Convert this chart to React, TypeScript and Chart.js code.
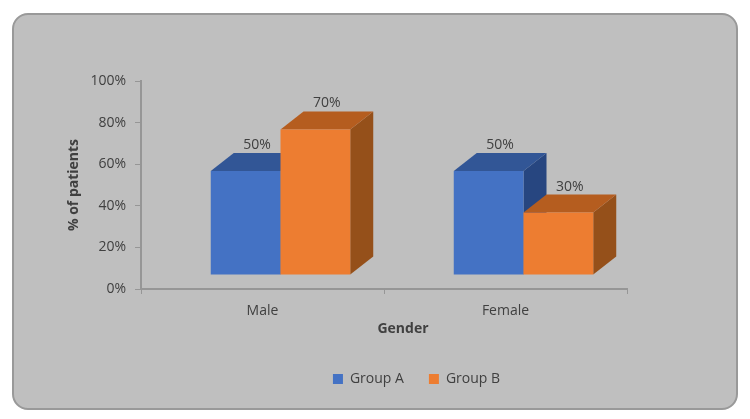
import React, { useEffect, useRef } from "react";
import { Chart, registerables } from "chart.js";

Chart.register(...registerables);

const categories = ["Male", "Female"];
const groupA = [50, 50];
const groupB = [70, 30];
const yTicksStep = 20;
const xAxisTitle = "Gender";

const FONT = "'Open Sans', 'Noto Sans', sans-serif";
const TEXT = "#404040";
const AXIS = "#969696";
const SHADES = [
  { front: "#4472C4", top: "#325696", side: "#274680" },
  { front: "#ED7D31", top: "#B55D1F", side: "#95501A" },
];
const SHIFT_X = 18;
const SHIFT_Y = -14;
const DEPTH_X = 23;
const DEPTH_Y = 18;

function poly(ctx: CanvasRenderingContext2D, pts: number[][], fill: string) {
  ctx.beginPath();
  pts.forEach((p, i) => (i ? ctx.lineTo(p[0], p[1]) : ctx.moveTo(p[0], p[1])));
  ctx.closePath();
  ctx.fillStyle = fill;
  ctx.fill();
}

const bars3d = {
  id: "bars3d",
  afterLayout(chart: any) {
    // the legend sits centred under the whole plot including its depth, not under the axis
    chart.legend.left = 83;
    chart.legend.right = 750;
    chart.legend.top = 347;
  },
  beforeDatasetsDraw(chart: any) {
    const { ctx } = chart;
    chart.data.datasets.forEach((_: any, di: number) => {
      const s = SHADES[di];
      chart.getDatasetMeta(di).data.forEach((el: any) => {
        const p = el.getProps(["x", "y", "base", "width"], true);
        const l = p.x - p.width / 2 + SHIFT_X;
        const r = p.x + p.width / 2 + SHIFT_X;
        const t = p.y + SHIFT_Y;
        const b = p.base + SHIFT_Y;
        poly(ctx, [[r, t], [r + DEPTH_X, t - DEPTH_Y], [r + DEPTH_X, b - DEPTH_Y], [r, b]], s.side);
        poly(ctx, [[l, t], [l + DEPTH_X, t - DEPTH_Y], [r + DEPTH_X, t - DEPTH_Y], [r, t]], s.top);
        poly(ctx, [[l, t], [r, t], [r, b], [l, b]], s.front);
      });
    });
    return false;
  },
  afterDraw(chart: any) {
    const { ctx } = chart;
    ctx.save();
    ctx.font = `14px ${FONT}`;
    ctx.fillStyle = TEXT;
    ctx.textAlign = "center";
    ctx.textBaseline = "middle";
    chart.data.datasets.forEach((ds: any, di: number) => {
      chart.getDatasetMeta(di).data.forEach((el: any, i: number) => {
        const p = el.getProps(["x", "y"], true);
        ctx.fillText(`${ds.data[i]}%`, p.x + SHIFT_X + DEPTH_X / 2, p.y + SHIFT_Y - 26);
      });
    });
    ctx.font = `bold 14px ${FONT}`;
    ctx.fillText(xAxisTitle, 403, 329);
    ctx.restore();
  },
};

export default function App() {
  const ref = useRef<HTMLCanvasElement>(null);
  useEffect(() => {
    document.body.style.margin = "0";
    const chart = new Chart(ref.current!, {
      type: "bar",
      data: {
        labels: categories,
        datasets: [
          { label: "Group A", data: groupA, backgroundColor: SHADES[0].front },
          { label: "Group B", data: groupB, backgroundColor: SHADES[1].front },
        ],
      },
      plugins: [bars3d],
      options: {
        responsive: false,
        animation: false,
        layout: { padding: { left: 66, top: 81, right: 123, bottom: 0 } },
        datasets: { bar: { categoryPercentage: 0.574, barPercentage: 1 } },
        plugins: {
          tooltip: { enabled: false },
          legend: {
            position: "bottom",
            labels: {
              boxWidth: 10,
              boxHeight: 10,
              padding: 25,
              color: TEXT,
              font: { family: FONT, size: 14 },
            },
          },
        },
        scales: {
          x: {
            afterFit: (s: any) => { s.height = 81; },
            border: { color: AXIS, width: 2 },
            grid: { display: true, drawOnChartArea: false, color: AXIS, tickLength: 5, offset: true },
            ticks: { color: TEXT, font: { family: FONT, size: 14 }, padding: 9, maxRotation: 0 },
          },
          y: {
            min: 0,
            max: 100,
            afterFit: (s: any) => { s.width = 75; },
            border: { color: AXIS, width: 2 },
            grid: { display: true, drawOnChartArea: false, color: AXIS, tickLength: 6 },
            ticks: {
              stepSize: yTicksStep,
              color: TEXT,
              font: { family: FONT, size: 14 },
              padding: 9,
              callback: (v: any) => `${v}%`,
            },
            title: {
              display: true,
              text: "% of patients",
              color: TEXT,
              font: { family: FONT, size: 14, weight: "bold" },
              padding: 0,
            },
          },
        },
      },
    } as any);
    return () => chart.destroy();
  }, []);
  return (
    <div style={{ position: "relative", width: 750, height: 419, background: "#fff", overflow: "hidden" }}>
      <div
        style={{
          position: "absolute",
          left: 12,
          top: 13,
          width: 726,
          height: 397,
          boxSizing: "border-box",
          background: "#BFBFBF",
          border: "2px solid #999999",
          borderRadius: 16,
          filter: "blur(0.5px)",
        }}
      />
      <canvas
        ref={ref}
        width={750}
        height={419}
        style={{ position: "absolute", left: 0, top: 0, filter: "blur(0.5px)" }}
      />
    </div>
  );
}
